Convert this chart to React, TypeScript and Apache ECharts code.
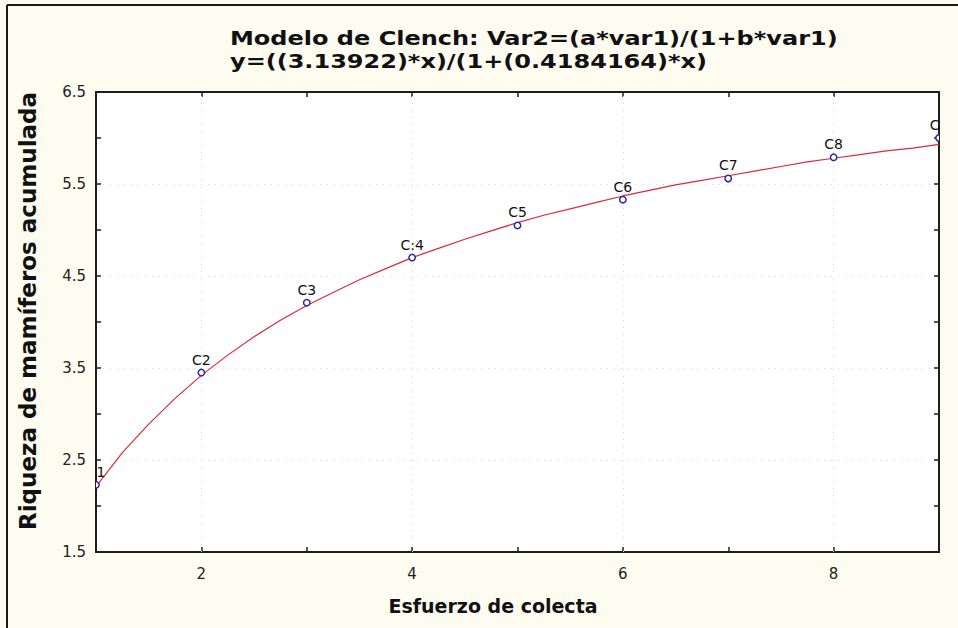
import React, { useEffect, useRef } from "react";
import * as echarts from "echarts";

// Observed data (collection effort vs accumulated richness)
const obsX = [1, 2, 3, 4, 5, 6, 7, 8, 9];
const obsY = [2.23, 3.45, 4.21, 4.7, 5.05, 5.33, 5.56, 5.79, 6.0];
const pointLabels = ["C1", "C2", "C3", "C:4", "C5", "C6", "C7", "C8", "C9"];

// Fitted curve
const curveX = [
  1, 1.25, 1.5, 1.75, 2, 2.25, 2.5, 2.75, 3, 3.25, 3.5, 3.75, 4, 4.25, 4.5, 4.75,
  5, 5.25, 5.5, 5.75, 6, 6.25, 6.5, 6.75, 7, 7.25, 7.5, 7.75, 8, 8.25, 8.5, 8.75, 9,
];
const curveY = [
  2.21, 2.58, 2.89, 3.17, 3.42, 3.64, 3.84, 4.02, 4.18, 4.32, 4.46, 4.58, 4.7, 4.8, 4.9, 4.99,
  5.08, 5.16, 5.23, 5.3, 5.37, 5.43, 5.49, 5.54, 5.59, 5.64, 5.69, 5.74, 5.78, 5.82, 5.86, 5.89, 5.93,
];

const xGridValues = [2, 4, 6, 8];

const titleLines = [
  "Modelo de Clench: Var2=(a*var1)/(1+b*var1)",
  "y=((3.13922)*x)/(1+(0.4184164)*x)",
];
const xName = "Esfuerzo de colecta";
const yName = "Riqueza de mamíferos acumulada";

export default function App() {
  const ref = useRef<HTMLDivElement>(null);
  useEffect(() => {
    document.body.style.margin = "0";
    if (!ref.current) return;
    const chart = echarts.init(ref.current, null, { renderer: "svg" });
    const axisLine = { show: true, lineStyle: { color: "#1e1e1e", width: 2 } };
    const tick = { show: true, inside: true, length: 5, lineStyle: { color: "#1e1e1e", width: 1.5 } };
    const gridStyle = { color: "#d6d6d6", type: [1, 6] as any, width: 1 };
    const tickFont = { fontFamily: "DejaVu Sans", fontSize: 15, color: "#222" };
    chart.setOption({
      animation: false,
      backgroundColor: "#fefcf0",
      grid: {
        left: 96,
        right: 19,
        top: 92,
        bottom: 76,
        show: true,
        backgroundColor: "#ffffff",
        borderWidth: 0,
      },
      graphic: [
        { type: "line", shape: { x1: 7, y1: 5, x2: 958, y2: 5 }, style: { stroke: "#1a1a1a", lineWidth: 2 } },
        { type: "line", shape: { x1: 7, y1: 5, x2: 7, y2: 628 }, style: { stroke: "#1a1a1a", lineWidth: 2 } },
        ...titleLines.map((t, i) => ({
          type: "text",
          x: 230,
          y: 38 + i * 23,
          scaleX: 1.2,
          style: {
            text: t,
            font: "bold 20px 'DejaVu Sans'",
            fill: "#111",
            align: "left",
            verticalAlign: "middle",
          },
        })),
        {
          type: "text",
          x: 493,
          y: 606,
          style: {
            text: xName,
            font: "bold 19px 'DejaVu Sans'",
            fill: "#111",
            align: "center",
            verticalAlign: "middle",
          },
        },
        {
          type: "text",
          x: 28,
          y: 311,
          rotation: Math.PI / 2,
          style: {
            text: yName,
            font: "bold 23px 'DejaVu Sans'",
            fill: "#111",
            align: "center",
            verticalAlign: "middle",
          },
        },
      ],
      xAxis: [
        {
          type: "value",
          min: 1,
          max: 9,
          interval: 1,
          position: "bottom",
          axisLine,
          axisTick: tick,
          axisLabel: {
            ...tickFont,
            margin: 14,
            formatter: (v: number) => (v % 2 === 0 ? String(v) : ""),
          },
          splitLine: { show: false },
        },
        {
          type: "value",
          min: 1,
          max: 9,
          interval: 1,
          position: "top",
          axisLine,
          axisTick: tick,
          axisLabel: { show: false },
          splitLine: { show: false },
        },
      ],
      yAxis: [
        {
          type: "value",
          min: 1.5,
          max: 6.5,
          interval: 1,
          position: "left",
          axisLine,
          axisTick: tick,
          minorTick: { show: true, splitNumber: 2, length: 5, lineStyle: { color: "#1e1e1e", width: 1.5 } },
          axisLabel: { ...tickFont, margin: 10, formatter: (v: number) => v.toFixed(1) },
          splitLine: { show: true, lineStyle: gridStyle },
        },
        {
          type: "value",
          min: 1.5,
          max: 6.5,
          interval: 1,
          position: "right",
          axisLine,
          axisTick: tick,
          minorTick: { show: true, splitNumber: 2, length: 5, lineStyle: { color: "#1e1e1e", width: 1.5 } },
          axisLabel: { show: false },
          splitLine: { show: false },
        },
      ],
      series: [
        {
          type: "line",
          xAxisIndex: 0,
          yAxisIndex: 0,
          data: curveX.map((x, i) => [x, curveY[i]]),
          smooth: false,
          showSymbol: false,
          clip: true,
          lineStyle: { color: "#dc2a3c", width: 1.2 },
          z: 3,
          markLine: {
            silent: true,
            symbol: "none",
            label: { show: false },
            lineStyle: gridStyle,
            data: xGridValues.map((v) => ({ xAxis: v })),
            z: 1,
          },
        },
        {
          type: "custom",
          xAxisIndex: 0,
          yAxisIndex: 0,
          clip: true,
          z: 4,
          data: obsX.map((x, i) => [x, obsY[i]]),
          encode: { x: 0, y: 1 },
          renderItem: (params: any, api: any) => {
            const p = api.coord([api.value(0), api.value(1)]);
            return {
              type: "group",
              children: [
                {
                  type: "circle",
                  shape: { cx: p[0], cy: p[1], r: 3.2 },
                  style: { fill: "#ffffff", stroke: "#2b2b9c", lineWidth: 1.5 },
                },
                {
                  type: "text",
                  x: p[0],
                  y: p[1] - 6,
                  style: {
                    text: pointLabels[params.dataIndex],
                    font: "14px 'DejaVu Sans'",
                    fill: "#111",
                    align: "center",
                    verticalAlign: "bottom",
                  },
                },
              ],
            };
          },
        },
      ],
    });
    return () => chart.dispose();
  }, []);
  return <div ref={ref} style={{ width: 958, height: 628 }} />;
}
